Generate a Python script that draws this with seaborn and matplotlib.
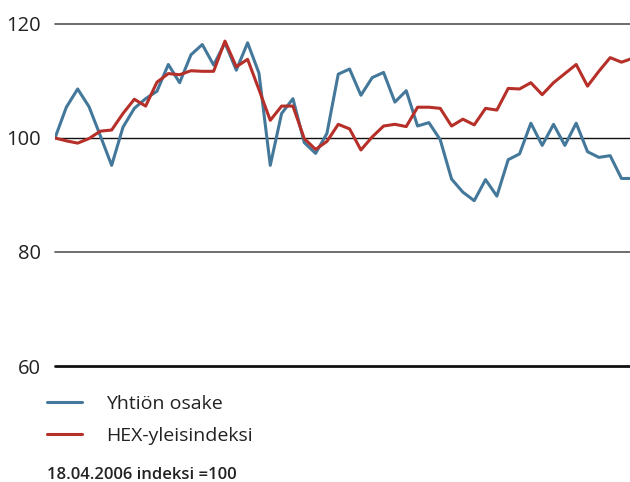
import pandas as pd
import seaborn as sns
import matplotlib.pyplot as plt

# Viikkodata, indeksi 18.04.2006 = 100
yhtio = [100, 105.4, 108.6, 105.5, 100.4, 95.2, 101.9, 105.2, 106.9, 108.2,
         112.9, 109.7, 114.6, 116.4, 112.8, 116.7, 111.9, 116.7, 111.4, 95.2,
         104.3, 106.9, 99.2, 97.3, 100.8, 111.2, 112.1, 107.5, 110.6, 111.5,
         106.3, 108.3, 102.1, 102.7, 99.7, 92.8, 90.5, 89.0, 92.7, 89.8,
         96.2, 97.2, 102.6, 98.7, 102.4, 98.7, 102.6, 97.6, 96.6, 96.9,
         92.9, 92.9]
hex_index = [100, 99.5, 99.1, 99.9, 101.2, 101.4, 104.3, 106.8, 105.6, 109.8,
             111.3, 111.1, 111.8, 111.7, 111.7, 117.0, 112.5, 113.8, 108.5, 103.1,
             105.6, 105.6, 99.9, 98.0, 99.4, 102.4, 101.6, 97.9, 100.2, 102.1,
             102.4, 102.0, 105.4, 105.4, 105.2, 102.1, 103.3, 102.3, 105.2, 104.9,
             108.7, 108.6, 109.7, 107.6, 109.7, 111.3, 112.9, 109.1, 111.7, 114.1,
             113.3, 114.0]
series_names = ['Yhtiön osake', 'HEX-yleisindeksi']
y_ticks = [60, 80, 100, 120]
footnote = '18.04.2006 indeksi =100'

colors = {'Yhtiön osake': '#44789a', 'HEX-yleisindeksi': '#b62f28'}

df = pd.DataFrame({'viikko': range(len(yhtio)),
                   series_names[0]: yhtio,
                   series_names[1]: hex_index})
long = df.melt(id_vars='viikko', var_name='sarja', value_name='indeksi')

sns.set_style('white')
plt.rcParams['font.family'] = ['Open Sans', 'DejaVu Sans']

fig = plt.figure(figsize=(6.3, 4.82), dpi=100)
ax = fig.add_axes([55 / 630, 116 / 482, 575 / 630, 342 / 482])

# vaakaviivat
for v in y_ticks:
    if v == 60:
        ax.axhline(v, color='#111111', lw=2.0, zorder=1, clip_on=False)
    elif v == 100:
        ax.axhline(v, color='#111111', lw=1.0, zorder=1)
    else:
        ax.axhline(v, color='#555555', lw=1.2, zorder=1, clip_on=False)

sns.lineplot(data=long, x='viikko', y='indeksi', hue='sarja',
             palette=colors, hue_order=series_names, lw=2.2, ax=ax,
             zorder=3)

ax.set_xlim(0, 50.75)
ax.set_ylim(60, 120)
ax.set_yticks(y_ticks)
ax.set_xticks([])
ax.set_xlabel('')
ax.set_ylabel('')
ax.tick_params(axis='y', length=0, pad=10, labelsize=14.5, labelcolor='#222222')
sns.despine(ax=ax, left=True, bottom=True, top=True, right=True)

leg = ax.legend(loc='upper left', bbox_to_anchor=(47 / 630, 1 - 395 / 482),
                bbox_transform=fig.transFigure, frameon=False,
                fontsize=14, handlelength=1.8, handletextpad=1.25,
                labelspacing=0.7, borderaxespad=0, borderpad=0)
for line in leg.get_lines():
    line.set_linewidth(2.2)
for t in leg.get_texts():
    t.set_color('#222222')

fig.text(47 / 630, 1 - 475 / 482, footnote, fontsize=12, fontweight='semibold',
         color='#222222', va='center')

plt.savefig('out.png', dpi=100)
